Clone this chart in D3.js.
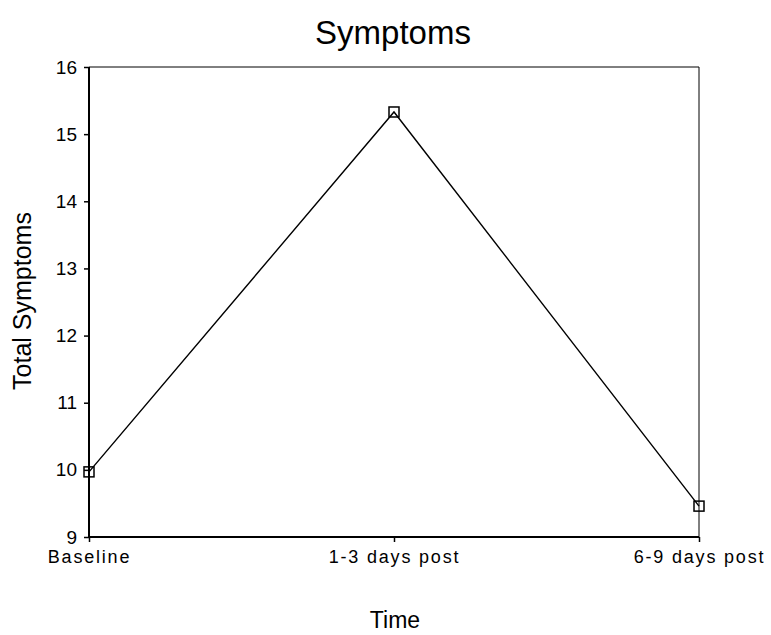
<!DOCTYPE html>
<html>
<head>
<meta charset="utf-8">
<script src="https://cdn.jsdelivr.net/npm/d3@7"></script>
<style>
  body { margin: 0; background: #fff; }
  text { font-family: Arial, "Liberation Sans", sans-serif; fill: #000; }
</style>
</head>
<body>
<script>
// chart data
var times = ["Baseline", "1-3 days post", "6-9 days post"];
var symptoms = [9.97, 15.33, 9.46];
var yTicks = [9, 10, 11, 12, 13, 14, 15, 16];

var margin = { top: 67, right: 72, bottom: 98, left: 89 }
    , width = 771 - margin.left - margin.right
    , height = 635 - margin.top - margin.bottom;

var svg = d3.select("body").append("svg")
    .attr("width", 771)
    .attr("height", 635);

var g = svg.append("g")
    .attr("transform", "translate(" + margin.left + "," + margin.top + ")");

var xScale = d3.scalePoint()
    .domain(times)
    .range([0, width]);

var yScale = d3.scaleLinear()
    .domain([9, 16])
    .range([height, 0]);

// frame top / right
g.append("line").attr("x1", 0).attr("x2", width).attr("y1", 0).attr("y2", 0)
    .attr("stroke", "#000").attr("stroke-width", 1);
g.append("line").attr("x1", width).attr("x2", width).attr("y1", 0).attr("y2", height)
    .attr("stroke", "#000").attr("stroke-width", 1);

// y axis
var yAxis = g.append("g")
    .call(d3.axisLeft(yScale).tickValues(yTicks).tickSize(5).tickPadding(7).tickFormat(d3.format("d")));
yAxis.select(".domain").attr("stroke-width", 2).attr("d", "M0," + height + "V0");
yAxis.selectAll(".tick line").attr("stroke-width", 1.5);
yAxis.selectAll("text").style("font-size", "19px").attr("font-family", null);

// x axis
var xAxis = g.append("g")
    .attr("transform", "translate(0," + height + ")")
    .call(d3.axisBottom(xScale).tickSize(5).tickPadding(8));
xAxis.select(".domain").attr("stroke-width", 2).attr("d", "M0,0H" + width);
xAxis.selectAll(".tick line").attr("stroke-width", 1.5);
xAxis.selectAll("text").style("font-size", "18px").style("letter-spacing", "1.8px").attr("font-family", null);

// line
g.append("path")
    .datum(symptoms)
    .attr("fill", "none")
    .attr("stroke", "black")
    .attr("stroke-width", 1.4)
    .attr("d", d3.line()
        .x(function (d, i) { return xScale(times[i]) })
        .y(function (d) { return yScale(d) })
    );

// square markers
g.selectAll(".marker")
    .data(symptoms)
    .enter().append("rect")
    .attr("class", "marker")
    .attr("x", function (d, i) { return xScale(times[i]) - 5 })
    .attr("y", function (d) { return yScale(d) - 5 })
    .attr("width", 10)
    .attr("height", 10)
    .attr("fill", "none")
    .attr("stroke", "black")
    .attr("stroke-width", 1.5);

// titles
svg.append("text")
    .attr("x", 393).attr("y", 44)
    .attr("text-anchor", "middle")
    .style("font-size", "33px")
    .text("Symptoms");

svg.append("text")
    .attr("x", 395).attr("y", 628)
    .attr("text-anchor", "middle")
    .style("font-size", "23px")
    .text("Time");

svg.append("text")
    .attr("transform", "translate(31,301) rotate(-90)")
    .attr("text-anchor", "middle")
    .style("font-size", "25px")
    .text("Total Symptoms");
</script>
</body>
</html>
